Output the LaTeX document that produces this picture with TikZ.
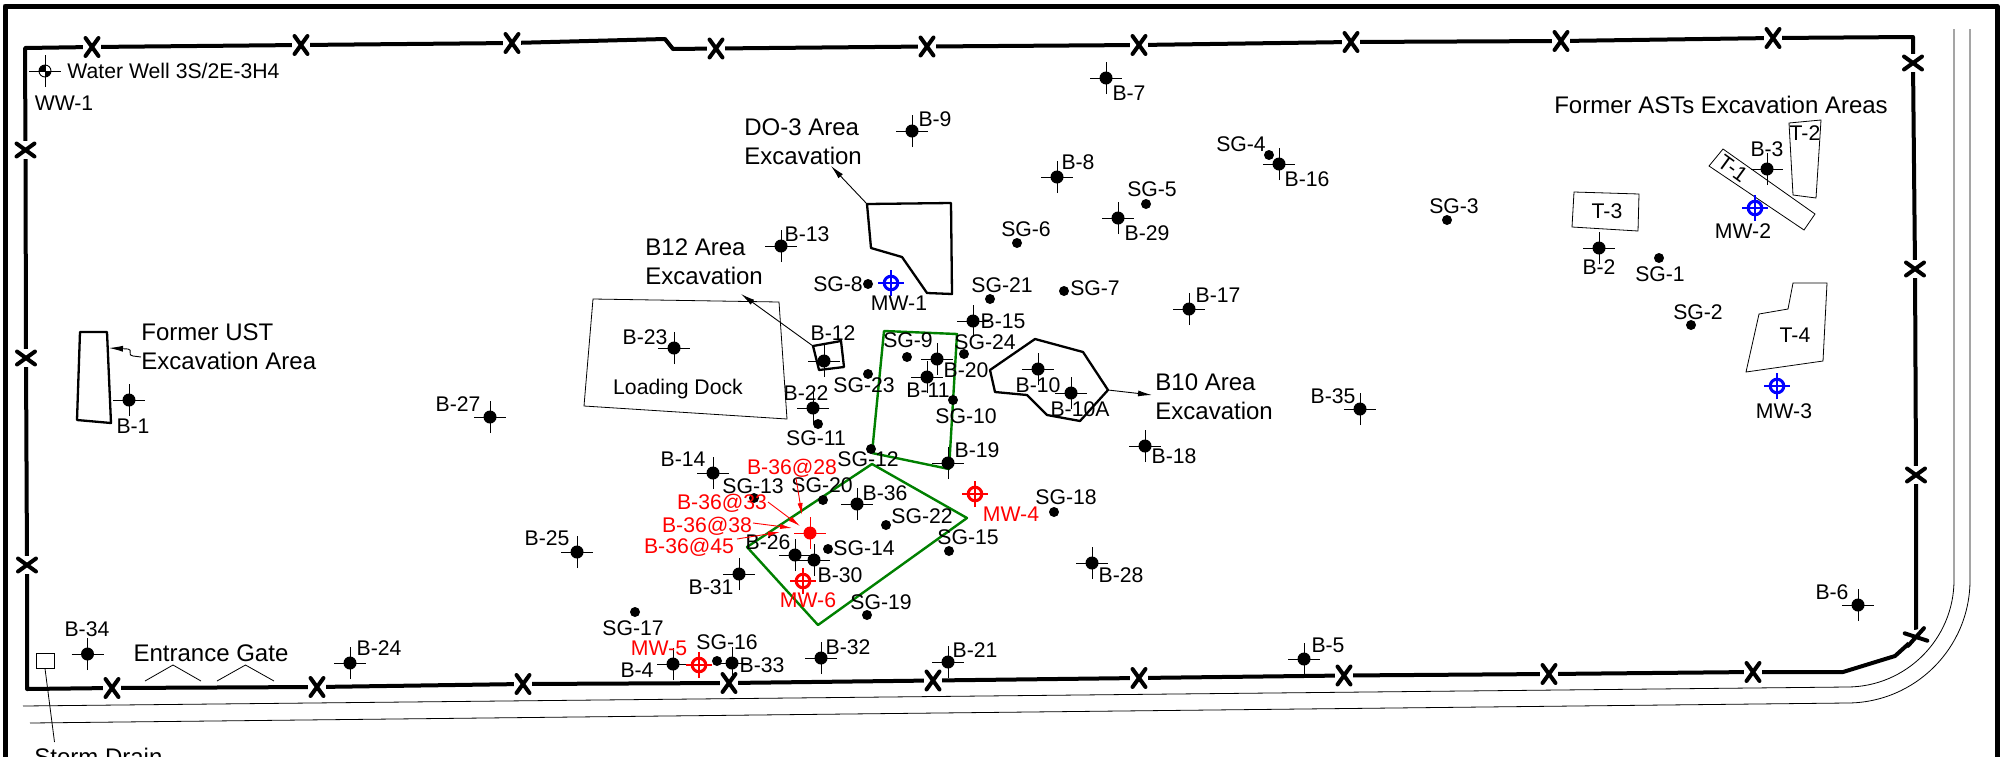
\documentclass[tikz,border=0pt]{standalone}
\usepackage{fontspec}
\setmainfont{Liberation Sans}
\usetikzlibrary{shapes.misc,arrows.meta}
\definecolor{plumegreen}{RGB}{0,128,0}
\tikzset{
  frameline/.style={line width=2.5pt, line join=round},
  fenceline/.style={line width=2pt, line join=round},
  fencegap/.style={fill=white, inner sep=0pt},
  fencex/.style={cross out, draw, line width=2pt, line cap=round, inner sep=0pt},
  thinline/.style={line width=0.4pt},
  arealine/.style={line width=1.15pt, line join=round},
  plumeline/.style={plumegreen, line width=1.2pt, line join=round},
  hair/.style={line width=0.45pt},
  boring/.style={circle, fill=black, inner sep=0pt, minimum size=6.5pt},
  sgdot/.style={circle, fill=black, inner sep=0pt, minimum size=5pt},
  mwell/.style={circle, draw, line width=1.5pt, inner sep=0pt, minimum size=6.8pt},
  lbl/.style={inner sep=0pt, text height=7.5pt, text depth=0pt, font=\fontsize{10.6}{12}\selectfont},
  biglbl/.style={inner sep=0pt, align=left, font=\fontsize{12}{14.5}\selectfont},
  leader/.style={line width=0.45pt, -{Latex[length=7pt,width=3pt]}},
  redleader/.style={red, line width=0.45pt, -{Latex[length=6pt,width=2.6pt]}},
}
\begin{document}
\begin{tikzpicture}[x=0.5pt, y=-0.5pt]
  \useasboundingbox (0,0) rectangle (2002,756);

  % outer frame and road
  \draw[frameline] (5,770) -- (5,6) -- (1997,6) -- (1997,770);
  \draw[thinline] (23,706) -- (1847,687) .. controls (1906,687) and (1954,639) .. (1954,580) -- (1954,29);
  \draw[thinline] (30,723) -- (1847,703) .. controls (1915,703) and (1970,648) .. (1970,580) -- (1970,29);

  % fence
  \draw[fenceline] (25,48) -- (92,47) -- (301,45) -- (512,43) -- (665,39) -- (673,49) -- (716,48.5)
    -- (927,46.5) -- (1139,45) -- (1351,42) -- (1561,41) -- (1773,38) -- (1913,37)
    -- (1913,63) -- (1915,269) -- (1916,475) -- (1916,637) -- (1895,656) -- (1843,672)
    -- (1753,672) -- (1549,674) -- (1344,675.5) -- (1139,678) -- (933,680.5) -- (729,683)
    -- (523,684) -- (317,687) -- (112,688) -- (27,689) -- (27,565) -- (26,358) -- (25.5,150) -- cycle;
  \foreach \x/\y [count=\i] in {92/47, 301/45, 512/43, 716/48.5, 927/46.5, 1139/45, 1351/42, 1561/41, 1773/38,
      112/688, 317/687, 523/684, 729/683, 933/680.5, 1139/678, 1344/675.5, 1549/674, 1753/672} {
    \node[fencegap, minimum width=9pt, minimum height=3.5pt] (gapa\i) at (\x,\y) {};
    \node[fencex, minimum width=4.5pt, minimum height=7pt] (fxa\i) at (\x,\y) {};
  }
  \foreach \x/\y [count=\i] in {25.5/150, 26/358, 27/565, 1913/63, 1915/269, 1916/475} {
    \node[fencegap, minimum width=3.5pt, minimum height=9pt] (gapb\i) at (\x,\y) {};
    \node[fencex, minimum width=7pt, minimum height=4.5pt] (fxb\i) at (\x,\y) {};
  }
  \node[fencegap, minimum width=9pt, minimum height=7pt, rotate=15] (gapc) at (1916,637) {};
  \node[fencex, minimum width=8pt, minimum height=4.5pt, rotate=15] (fxc) at (1916,637) {};

  % excavation areas
  \draw[arealine] (80,332) -- (107,332) -- (111,423) -- (77,420) -- cycle;
  \draw[arealine] (867,204) -- (951,203) -- (952,294) -- (927,293) -- (902,257) -- (871,248) -- cycle;
  \draw[arealine] (813,346) -- (841,341) -- (844,367) -- (819,370) -- cycle;
  \draw[arealine] (990,370) -- (1035,339) -- (1083,352) -- (1108,390) -- (1080,421) -- (1047,415) -- (1027,395) -- (995,392) -- cycle;

  % buildings and tanks
  \draw[thinline] (593,299) -- (779,302) -- (787,419) -- (584,406) -- cycle;
  \draw[thinline] (1723,149) -- (1815,214) -- (1804,230) -- (1709,166) -- cycle;
  \draw[thinline] (1789,123) -- (1821,120) -- (1816,198) -- (1793,195) -- cycle;
  \draw[thinline] (1574,192) -- (1639,194) -- (1638,231) -- (1572,227) -- cycle;
  \draw[thinline] (1793,283) -- (1827,283) -- (1823,361) -- (1746,372) -- (1759,314) -- (1788,309) -- cycle;
  \draw[thinline] (145,681) -- (173,665) -- (201,681);
  \draw[thinline] (217,681) -- (245.5,665) -- (274,681);

  % plume outlines
  \draw[plumeline] (884,331) -- (957,334) -- (949,469) -- (872,453) -- cycle;
  \draw[plumeline] (872,464) -- (967,518) -- (818,625) -- (747,547) -- cycle;

  % borings
  \foreach \n/\x/\y/\lx/\ly in {B-1/129/400/133/426, B-2/1599/248/1599/267, B-3/1767/169/1767/149, B-4/673/664/637/670,
      B-5/1304/659/1328/645, B-6/1858/605/1832/592, B-7/1106/78/1129/93, B-8/1057/177/1078/162,
      B-9/912/131/935/119, B-10/1038/369/1038/385, B-10A/1071/393/1080/409, B-11/927/377/928/390,
      B-12/824/361/833/333, B-13/781/246/807/234, B-14/713/473/683/459, B-15/973/321/1003/321,
      B-16/1279/164/1307/179, B-17/1189/309/1218/295, B-18/1145/446/1174/456, B-19/948/463/977/450,
      B-20/937/359/966/370, B-21/948/662/975/650, B-22/813/408/806/393, B-23/674/348/645/337,
      B-24/350/663/379/648, B-25/577/552/547/538, B-26/795/555/768/542, B-27/490/417/458/404,
      B-28/1092/563/1121/575, B-29/1118/218/1147/233, B-30/814/560/840/575, B-31/739/574/711/587,
      B-32/821/658/848/647, B-33/732/663/762/665, B-34/87.5/654/87/629, B-35/1360/409/1333/396,
      B-36/857/504/885/493} {
    \node[boring] (\n) at (\x,\y) {};
    \draw[hair] ([xshift=-8pt]\n.center) -- ([xshift=8pt]\n.center);
    \draw[hair] ([yshift=-8pt]\n.center) -- ([yshift=8pt]\n.center);
    \node[lbl] (\n-t) at (\lx,\ly) {\n};
  }
  \node[boring, fill=red] (redboring) at (810,533) {};
  \draw[hair, red] ([xshift=-8pt]redboring.center) -- ([xshift=8pt]redboring.center);
  \draw[hair, red] ([yshift=-8pt]redboring.center) -- ([yshift=8pt]redboring.center);

  % soil gas points
  \foreach \n/\x/\y/\lx/\ly in {SG-1/1659/258/1660/274, SG-2/1691/325/1698/312, SG-3/1447/220/1454/206, SG-4/1269/155/1241/144,
      SG-5/1146/204/1152/189, SG-6/1017/243/1026/229, SG-7/1064/291/1095/288, SG-8/868/284/838/284,
      SG-9/907/357/908/340, SG-10/953/400/966/416, SG-11/818/424/816/438, SG-12/871/449/868/459,
      SG-13/754/498/753/486, SG-14/828/549/864/548, SG-15/949/551/968/537, SG-16/717/661/727/642,
      SG-17/635/612/633/628, SG-18/1054/512/1066/497, SG-19/867/615/881/602, SG-20/823/500/822/485,
      SG-21/990/299/1002/285, SG-22/886/525/922/516, SG-23/868/374/864/385, SG-24/964/354/985/342} {
    \node[sgdot] (\n) at (\x,\y) {};
    \node[lbl] (\n-t) at (\lx,\ly) {\n};
  }

  % monitoring wells
  \foreach \n/\x/\y/\lx/\ly/\col/\tcol in {MW-1/891/283/899/303/blue/black, MW-2/1755/208/1743/231/blue/black,
      MW-3/1777/386/1784/411/blue/black, MW-4/975/494/1011/514/red/red,
      MW-5/699/665/659/648/red/red, MW-6/803/581/808/600/red/red} {
    \node[mwell, draw=\col] (\n) at (\x,\y) {};
    \draw[\col, line width=1.3pt] ([xshift=-6.5pt]\n.center) -- ([xshift=6.5pt]\n.center);
    \draw[\col, line width=1.3pt] ([yshift=-6.5pt]\n.center) -- ([yshift=6.5pt]\n.center);
    \node[lbl, text=\tcol] (\n-t) at (\lx,\ly) {\n};
  }

  % water well
  \node[circle, draw, line width=0.45pt, inner sep=0pt, minimum size=6pt] (WW-1) at (45,71) {};
  \fill (WW-1.center) -- ++(-6,0) arc[start angle=180, end angle=90, radius=3pt] -- cycle;
  \fill (WW-1.center) -- ++(6,0) arc[start angle=0, end angle=-90, radius=3pt] -- cycle;
  \draw[hair] ([xshift=-8pt]WW-1.center) -- ([xshift=8pt]WW-1.center);
  \draw[hair] ([yshift=-8pt]WW-1.center) -- ([yshift=8pt]WW-1.center);
  \node[lbl] (WW-1-t) at (64,103) {WW-1};
  \node[lbl, anchor=west] (welltext) at (67,71) {Water Well 3S/2E-3H4};

  % storm drain
  \node[draw, line width=0.5pt, inner sep=0pt, minimum width=9pt, minimum height=7.5pt] (drain) at (45,660.5) {};
  \node[biglbl, anchor=base west] (draintext) at (34,765) {Storm Drain};
  \coordinate (drainend) at (54.5,742);
  \draw[thinline] (drain.south) -- (drainend);

  % tank labels
  \node[lbl, rotate=-36] (T-1) at (1733,168) {T-1};
  \node[lbl] (T-2) at (1805,133) {T-2};
  \node[lbl] (T-3) at (1607,211) {T-3};
  \node[lbl] (T-4) at (1795,335) {T-4};
  \node[lbl] (dock) at (678,387) {Loading Dock};

  % area labels
  \node[biglbl, anchor=north west] (ustarea) at (141,323) {Former UST\\Excavation Area};
  \node[biglbl, anchor=north west] (b12area) at (645,238) {B12 Area\\Excavation};
  \node[biglbl, anchor=north west] (do3area) at (744,118) {DO-3 Area\\Excavation};
  \node[biglbl, anchor=north west] (b10area) at (1155,373) {B10 Area\\Excavation};
  \node[biglbl] (astarea) at (1721,105) {Former ASTs Excavation Areas};
  \node[biglbl] (gate) at (211,653) {Entrance Gate};

  % leaders
  \coordinate (ustend) at (109,348);
  \coordinate (ustbend) at (128,349);
  \draw[leader] (ustarea.west |- 0,357) -- (133,356) .. controls (127,356) and (133,349) .. (ustbend) -- (ustend);
  \coordinate (b12end) at (741,294);
  \coordinate (b12box) at (813,346);
  \draw[leader] (b12box) -- (b12end);
  \coordinate (do3end) at (831,166);
  \coordinate (do3box) at (867,204);
  \draw[leader] (do3box) -- (do3end);
  \coordinate (b10box) at (1108,390);
  \coordinate (b10end) at (1152,395);
  \draw[leader] (b10box) -- (b10end);

  % red sample depths
  \node[lbl, text=red] (r28) at (792,467) {B-36@28};
  \node[lbl, text=red] (r33) at (722,502) {B-36@33};
  \node[lbl, text=red] (r38) at (707,525) {B-36@38};
  \node[lbl, text=red] (r45) at (689,546) {B-36@45};
  \coordinate (r28a) at (796,478);
  \coordinate (r33a) at (768,502);
  \coordinate (r38a) at (753,523);
  \coordinate (r45a) at (737,539);
  \coordinate (r28b) at (802,515);
  \coordinate (r33b) at (800,526);
  \coordinate (r38b) at (792,528);
  \coordinate (r45b) at (780,532);
  \draw[redleader] (r28a) -- (r28b);
  \draw[redleader] (r33a) -- (r33b);
  \draw[redleader] (r38a) -- (r38b);
  \draw[redleader] (r45a) -- (r45b);
\end{tikzpicture}
\end{document}
